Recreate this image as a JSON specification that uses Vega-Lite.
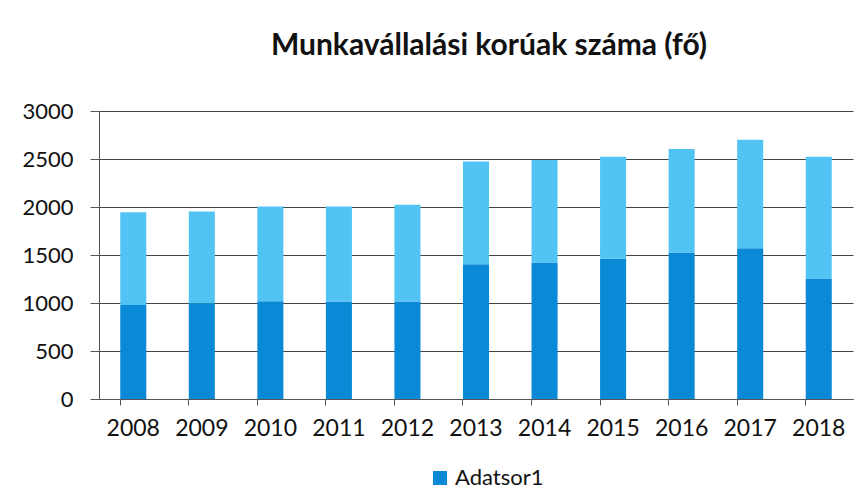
{
  "$schema": "https://vega.github.io/schema/vega-lite/v6.json",
  "autosize": "none",
  "width": 754,
  "height": 288,
  "padding": {"left": 99, "top": 111, "right": 14, "bottom": 95},
  "background": "white",
  "config": {
    "view": {"stroke": null},
    "font": "Lato"
  },
  "title": {
    "text": "Munkavállalási korúak száma (fő)",
    "font": "Lato",
    "fontSize": 30,
    "fontWeight": "bold",
    "color": "#111111",
    "anchor": "middle",
    "frame": "group",
    "baseline": "alphabetic",
    "offset": 15,
    "dx": 13
  },
  "data": {
    "values": [
      {"year": "2008", "series": "Adatsor1", "value": 980},
      {"year": "2009", "series": "Adatsor1", "value": 997},
      {"year": "2010", "series": "Adatsor1", "value": 1018},
      {"year": "2011", "series": "Adatsor1", "value": 1015},
      {"year": "2012", "series": "Adatsor1", "value": 1015},
      {"year": "2013", "series": "Adatsor1", "value": 1404},
      {"year": "2014", "series": "Adatsor1", "value": 1422},
      {"year": "2015", "series": "Adatsor1", "value": 1460},
      {"year": "2016", "series": "Adatsor1", "value": 1526},
      {"year": "2017", "series": "Adatsor1", "value": 1571},
      {"year": "2018", "series": "Adatsor1", "value": 1255},
      {"year": "2008", "series": "Adatsor2", "value": 966},
      {"year": "2009", "series": "Adatsor2", "value": 956},
      {"year": "2010", "series": "Adatsor2", "value": 988},
      {"year": "2011", "series": "Adatsor2", "value": 991},
      {"year": "2012", "series": "Adatsor2", "value": 1009},
      {"year": "2013", "series": "Adatsor2", "value": 1071},
      {"year": "2014", "series": "Adatsor2", "value": 1067},
      {"year": "2015", "series": "Adatsor2", "value": 1064},
      {"year": "2016", "series": "Adatsor2", "value": 1078},
      {"year": "2017", "series": "Adatsor2", "value": 1130},
      {"year": "2018", "series": "Adatsor2", "value": 1269}
    ]
  },
  "mark": {"type": "bar"},
  "encoding": {
    "x": {
      "field": "year",
      "type": "nominal",
      "sort": null,
      "scale": {"paddingInner": 0.62, "paddingOuter": 0.31},
      "axis": {
        "title": null,
        "labelAngle": 0,
        "labelFont": "Lato",
        "labelFontSize": 23,
        "labelColor": "#111111",
        "labelPadding": 12,
        "bandPosition": 0,
        "tickSize": 6,
        "tickColor": "#555555",
        "domainColor": "#555555",
        "grid": false
      }
    },
    "y": {
      "field": "value",
      "type": "quantitative",
      "aggregate": "sum",
      "stack": "zero",
      "scale": {"domain": [0, 3000], "nice": false},
      "axis": {
        "title": null,
        "format": "d",
        "values": [0, 500, 1000, 1500, 2000, 2500, 3000],
        "labelFont": "Lato",
        "labelFontSize": 22,
        "labelColor": "#111111",
        "labelPadding": 17,
        "tickSize": 9,
        "tickColor": "#555555",
        "domainColor": "#555555",
        "gridColor": "#444444",
        "gridWidth": 1
      }
    },
    "color": {
      "field": "series",
      "type": "nominal",
      "scale": {"domain": ["Adatsor1", "Adatsor2"], "range": ["#0a89d7", "#52c4f3"]},
      "legend": {
        "title": null,
        "values": ["Adatsor1"],
        "orient": "none",
        "legendX": 330,
        "legendY": 356,
        "symbolType": "square",
        "symbolSize": 196,
        "symbolStrokeWidth": 0,
        "labelFont": "Lato",
        "labelFontSize": 22,
        "labelColor": "#111111",
        "labelOffset": 4
      }
    },
    "order": {"field": "series", "sort": "ascending"}
  }
}
